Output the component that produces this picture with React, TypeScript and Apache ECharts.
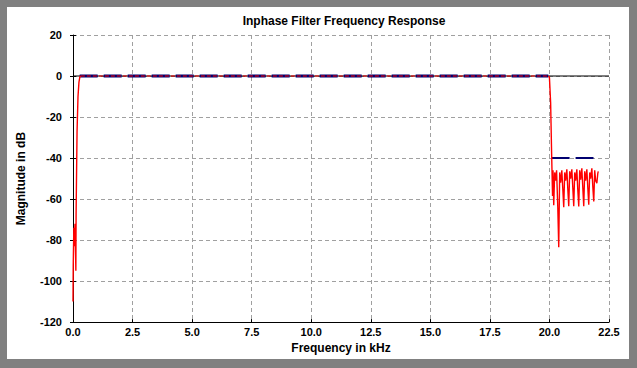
import React, { useEffect, useRef } from "react";
import * as echarts from "echarts";

const TITLE = "Inphase Filter Frequency Response";
const X_NAME = "Frequency in kHz";
const Y_NAME = "Magnitude in dB";

const X_MIN = 0;
const X_MAX = 22.5;
const X_STEP = 2.5;
const Y_MIN = -120;
const Y_MAX = 20;
const Y_STEP = 20;

// ideal 0 dB reference line
const idealLine: [number, number][] = [
  [0, 0],
  [22.5, 0],
];

// specification masks
const passbandSpec: [number, number][] = [
  [0.28, 0],
  [19.95, 0],
];
const stopbandSpec: [number, number][] = [
  [20.09, -40],
  [21.85, -40],
];

// measured response: low-frequency edge
const responseLow: [number, number][] = [
  [0.0, -110],
  [0.01, -92],
  [0.035, -74],
  [0.06, -83],
  [0.085, -72],
  [0.12, -95],
  [0.13, -67],
  [0.17, -27],
  [0.21, -10],
  [0.25, -3],
  [0.29, -0.3],
  [0.33, 0],
];

// measured response: passband
const responsePass: [number, number][] = [
  [0.33, 0],
  [19.96, 0],
];

// measured response: transition + stopband
const responseHigh: [number, number][] = [
  [19.96, 0],
  [20.0, -0.8],
  [20.05, -13],
  [20.09, -37],
  [20.13, -58.5],
  [20.15, -46],
  [20.18, -63],
  [20.22, -47],
  [20.26, -51],
  [20.3, -46],
  [20.35, -64],
  [20.39, -83.5],
  [20.43, -47],
  [20.47, -52],
  [20.52, -46],
  [20.56, -55],
  [20.6, -64],
  [20.64, -47],
  [20.68, -51],
  [20.73, -45.5],
  [20.77, -55],
  [20.81, -63.5],
  [20.85, -46.5],
  [20.89, -50],
  [20.94, -45.5],
  [20.98, -54.5],
  [21.02, -63.5],
  [21.06, -47],
  [21.1, -51],
  [21.15, -45.5],
  [21.19, -55.5],
  [21.23, -63.6],
  [21.27, -46],
  [21.31, -50.5],
  [21.36, -45],
  [21.4, -54.5],
  [21.44, -63.5],
  [21.48, -46.5],
  [21.52, -51],
  [21.57, -45.5],
  [21.61, -54.5],
  [21.65, -62.8],
  [21.69, -47],
  [21.73, -50],
  [21.78, -45],
  [21.82, -54],
  [21.86, -61.2],
  [21.9, -46],
  [21.94, -51],
  [21.99, -52.3],
  [22.03, -47.5],
  [22.05, -46.5],
];

const FONT = "'Liberation Sans', Arial, Helvetica, sans-serif";

export default function App() {
  const ref = useRef<HTMLDivElement>(null);

  useEffect(() => {
    document.body.style.margin = "0";
    if (!ref.current) return;
    const chart = echarts.init(ref.current, undefined, { renderer: "svg" });

    const labelStyle = {
      color: "#000",
      fontFamily: FONT,
      fontWeight: "bold" as const,
      fontSize: 11,
    };

    const yBase = {
      type: "value" as const,
      min: Y_MIN,
      max: Y_MAX,
      interval: Y_STEP,
      position: "left" as const,
    };

    chart.setOption({
      animation: false,
      backgroundColor: "#ffffff",
      title: {
        text: TITLE,
        left: 332,
        top: 3,
        textAlign: "center",
        textStyle: {
          color: "#000",
          fontFamily: FONT,
          fontWeight: "bold",
          fontSize: 12,
        },
      },
      grid: { left: 64, right: 20, top: 28, bottom: 34, containLabel: false },
      xAxis: {
        type: "value",
        min: X_MIN,
        max: X_MAX,
        interval: X_STEP,
        name: X_NAME,
        nameLocation: "middle",
        nameGap: 17,
        nameTextStyle: { ...labelStyle, fontSize: 12 },
        axisLine: { show: true, onZero: false, lineStyle: { color: "#000", width: 1 } },
        axisTick: { show: true, inside: true, length: 3, lineStyle: { color: "#000" } },
        axisLabel: {
          ...labelStyle,
          margin: 4,
          formatter: (v: number) => v.toFixed(1),
        },
        splitLine: {
          show: true,
          lineStyle: { color: "#a0a0a0", type: [4, 3], width: 1 },
        },
      },
      yAxis: [
        {
          ...yBase,
          name: Y_NAME,
          nameLocation: "middle",
          nameRotate: 90,
          nameGap: 46,
          nameTextStyle: { ...labelStyle, fontSize: 12 },
          axisLine: { show: true, onZero: false, lineStyle: { color: "#000", width: 1 } },
          axisTick: { show: true, inside: false, length: 3, lineStyle: { color: "#000" } },
          axisLabel: { ...labelStyle, margin: 11 },
          splitLine: {
            show: true,
            lineStyle: { color: "#a0a0a0", type: [4, 3], width: 1 },
          },
        },
        {
          ...yBase,
          axisLine: { show: false, onZero: false },
          axisTick: { show: true, inside: true, length: 3, lineStyle: { color: "#000" } },
          axisLabel: { show: false },
          splitLine: { show: false },
        },
      ],
      series: [
        {
          type: "line",
          data: idealLine,
          showSymbol: false,
          lineStyle: { color: "#000000", width: 1.2 },
          z: 2,
        },
        {
          type: "line",
          data: passbandSpec,
          showSymbol: false,
          lineStyle: { color: "#000070", width: 3, type: [18, 6], cap: "butt" },
          z: 3,
        },
        {
          type: "line",
          data: stopbandSpec,
          showSymbol: false,
          lineStyle: { color: "#000070", width: 2, type: [18, 6], cap: "butt" },
          z: 3,
        },
        {
          type: "line",
          data: responseLow,
          showSymbol: false,
          lineStyle: { color: "#ff0000", width: 1.4 },
          z: 4,
        },
        {
          type: "line",
          data: responsePass,
          showSymbol: false,
          lineStyle: { color: "#ff0000", width: 1.2, type: [4, 2] },
          z: 4,
        },
        {
          type: "line",
          data: responseHigh,
          showSymbol: false,
          lineStyle: { color: "#ff0000", width: 1.4 },
          z: 4,
        },
      ],
    });

    return () => chart.dispose();
  }, []);

  return (
    <div
      style={{
        position: "relative",
        width: 637,
        height: 368,
        background: "#808080",
        overflow: "hidden",
      }}
    >
      <div
        ref={ref}
        style={{ position: "absolute", left: 7, top: 7, width: 622, height: 352 }}
      />
    </div>
  );
}
